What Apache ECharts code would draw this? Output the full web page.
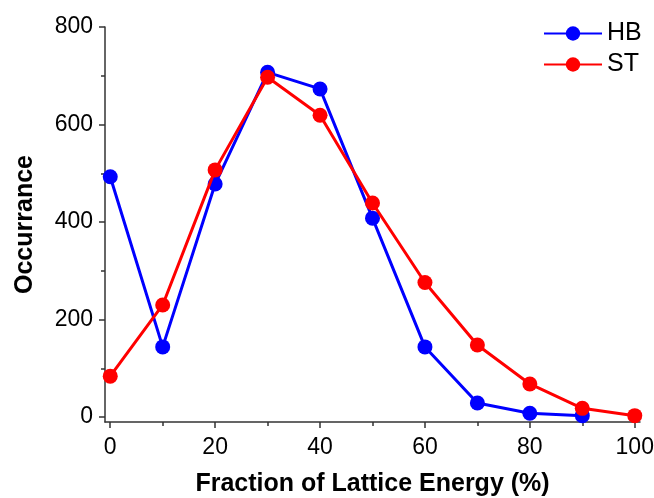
<!DOCTYPE html>
<html><head><meta charset="utf-8">
<script src="https://cdn.jsdelivr.net/npm/echarts@6/dist/echarts.min.js"></script>
<style>html,body{margin:0;padding:0;background:#fff}#c{width:654px;height:498px}</style>
</head><body><div id="c"></div>
<script>
const xValues = [0, 10, 20, 30, 40, 50, 60, 70, 80, 90, 100];
const hbValues = [493, 144, 478, 707, 673, 408, 144, 29, 8, 3];
const stValues = [84, 230, 507, 697, 619, 439, 276, 148, 68, 18, 3];
const xMajorTicks = [0, 20, 40, 60, 80, 100];
const xMinorTicks = [10, 30, 50, 70, 90];
const yMajorTicks = [0, 200, 400, 600, 800];
const yMinorTicks = [100, 300, 500, 700];

const font = '"Liberation Sans", Arial, sans-serif';
const axisColor = '#333';
const chart = echarts.init(document.getElementById('c'));
const pair = (xs, ys) => ys.map((v, i) => [xs[i], v]);
const X_MIN = -1, X_MAX = 101, Y_MIN = -10, Y_MAX = 800;
const tickAxis = (min, max, pos, values, len) => ({
  type: 'value', min: min, max: max, position: pos, offset: 0,
  axisLine: {show: false, onZero: false},
  axisTick: {show: true, inside: false, customValues: values, length: len, lineStyle: {color: axisColor, width: 1.5}},
  axisLabel: {show: false}, splitLine: {show: false}
});
chart.setOption({
  animation: false,
  grid: {left: 105, right: 14, top: 27, bottom: 76, containLabel: false, outerBoundsMode: 'none'},
  legend: {
    left: 538, top: 15, orient: 'vertical', itemWidth: 58, itemHeight: 18, itemGap: 4,
    textStyle: {fontFamily: font, fontSize: 25, lineHeight: 27, color: '#000'},
    data: ['HB', 'ST']
  },
  xAxis: [{
    type: 'value', min: X_MIN, max: X_MAX,
    name: 'Fraction of Lattice Energy (%)', nameLocation: 'middle', nameGap: 50,
    nameTextStyle: {fontFamily: font, fontSize: 25, fontWeight: 'bold', color: '#000'},
    axisLine: {show: true, onZero: false, lineStyle: {color: axisColor, width: 1.5}},
    axisTick: {show: false},
    axisLabel: {customValues: xMajorTicks, fontFamily: font, fontSize: 23, color: '#000', margin: 14},
    splitLine: {show: false}
  }, tickAxis(X_MIN, X_MAX, 'bottom', xMajorTicks, 6), tickAxis(X_MIN, X_MAX, 'bottom', xMinorTicks, 4)],
  yAxis: [{
    type: 'value', min: Y_MIN, max: Y_MAX,
    name: 'Occurrance', nameLocation: 'middle', nameGap: 67,
    nameTextStyle: {fontFamily: font, fontSize: 25, fontWeight: 'bold', color: '#000'},
    axisLine: {show: true, onZero: false, lineStyle: {color: axisColor, width: 1.5}},
    axisTick: {show: false},
    axisLabel: {customValues: yMajorTicks, fontFamily: font, fontSize: 23, color: '#000', margin: 12},
    splitLine: {show: false}
  }, tickAxis(Y_MIN, Y_MAX, 'left', yMajorTicks, 6), tickAxis(Y_MIN, Y_MAX, 'left', yMinorTicks, 4)],
  series: [{
    name: 'HB', type: 'line', data: pair(xValues, hbValues),
    symbol: 'circle', symbolSize: 15, color: '#0000ff',
    lineStyle: {width: 3, color: '#0000ff'}, itemStyle: {color: '#0000ff'}, z: 2
  }, {
    name: 'ST', type: 'line', data: pair(xValues, stValues),
    symbol: 'circle', symbolSize: 15, color: '#ff0000',
    lineStyle: {width: 3, color: '#ff0000'}, itemStyle: {color: '#ff0000'}, z: 3
  }]
});
</script></body></html>
